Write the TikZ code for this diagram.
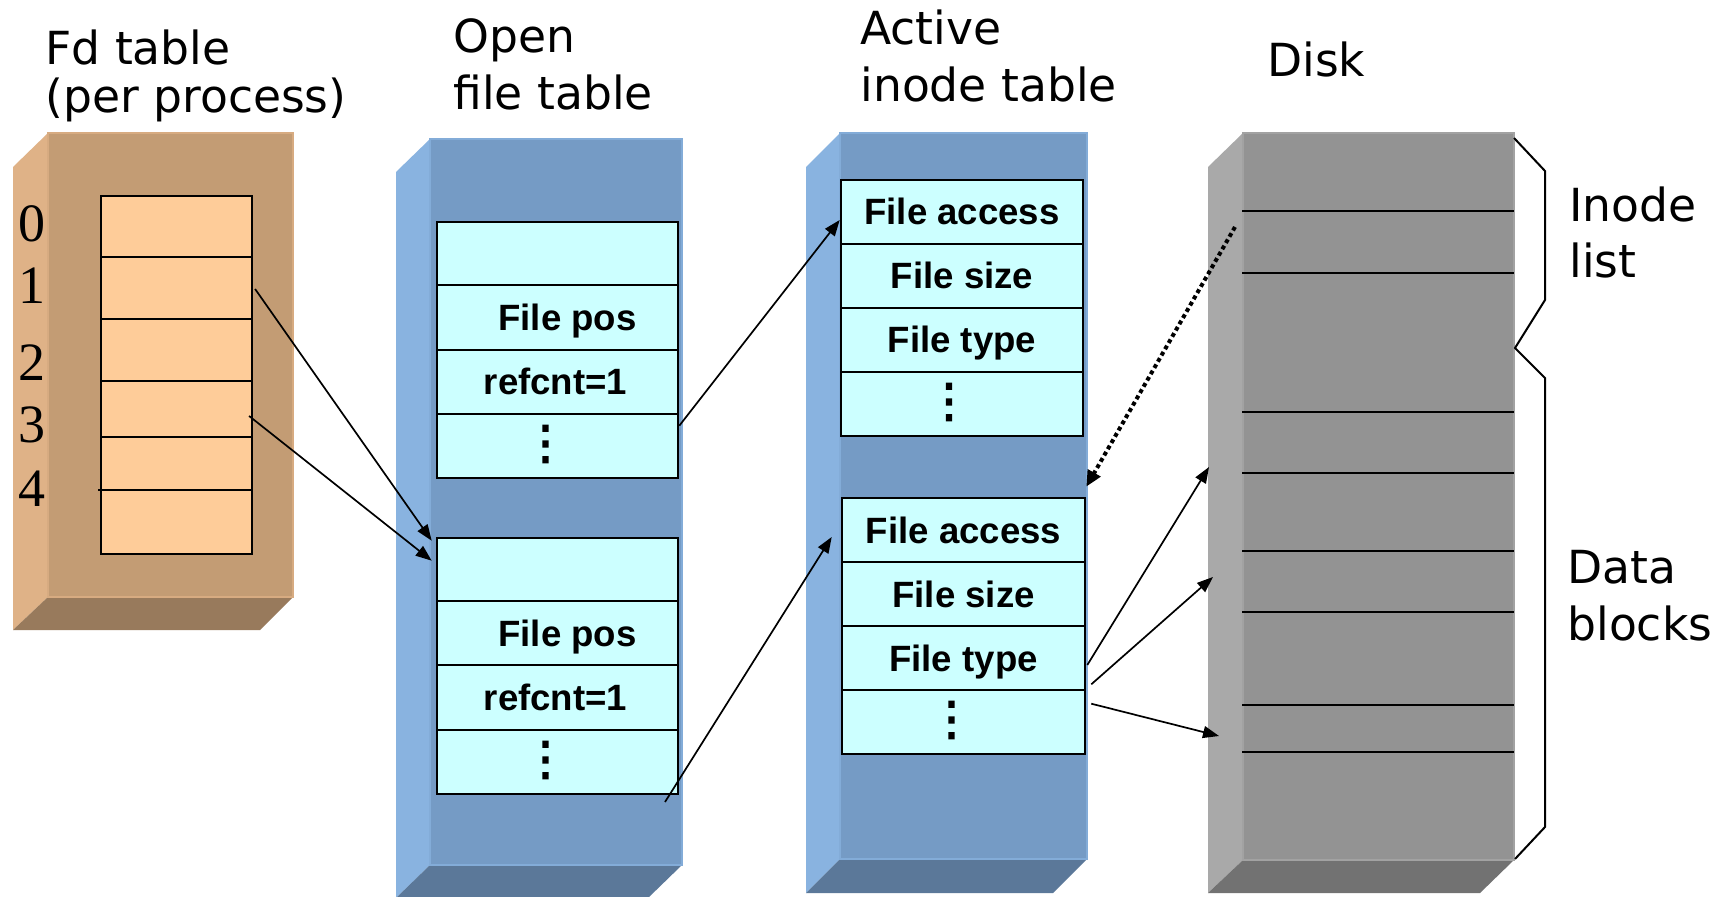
\documentclass[tikz,border=0pt]{standalone}
\usepackage{fontspec}
\setmainfont{DejaVu Sans}
\newfontfamily\labfont{Liberation Sans}
\newfontfamily\digfont{Liberation Serif}
\newfontfamily\dotsfont{DejaVu Sans}[FakeBold=3]
\usetikzlibrary{fit,calc,arrows.meta}
\definecolor{fdfront}{HTML}{C39C74}
\definecolor{fdside}{HTML}{DFB287}
\definecolor{fdbot}{HTML}{987A5C}
\definecolor{fdcell}{HTML}{FECC99}
\definecolor{bfront}{HTML}{759BC5}
\definecolor{bside}{HTML}{89B3E0}
\definecolor{bbot}{HTML}{5B7899}
\definecolor{cyancell}{HTML}{CCFFFF}
\definecolor{dfront}{HTML}{939393}
\definecolor{dside}{HTML}{A9A9A9}
\definecolor{dbot}{HTML}{727272}
\begin{document}
\begin{tikzpicture}[x=0.5pt,y=-0.5pt,
  cell/.style={draw=black, line width=1.3pt, fill=cyancell, inner sep=0pt},
  celltext/.style={inner sep=0pt, text height=13pt, text depth=0pt, anchor=center,
    font=\labfont\bfseries\fontsize{18.3}{20}\selectfont},
  vdots/.style={inner sep=0pt, anchor=center,
    font=\dotsfont\fontsize{23}{24}\selectfont},
  fdcellst/.style={draw=black, line width=1.1pt, fill=fdcell, inner sep=0pt},
  conn/.style={line width=0.85pt, -{Triangle[length=8pt,width=6pt]}},
  dotconn/.style={line width=2pt, dash pattern=on 2pt off 1.6pt, -{Triangle[length=8pt,width=7pt]}},
  head/.style={anchor=base west, inner sep=0pt, font=\fontsize{22.8}{27}\selectfont},
  digit/.style={anchor=base, inner sep=0pt, font=\digfont\fontsize{27}{30}\selectfont},
]
\clip (0,0) rectangle (1733,897);
\fill[white] (0,0) rectangle (1733,897);

% ---------- Fd table block ----------
\fill[fdside] (13,167) -- (48,133) -- (48,597) -- (13,630) -- cycle;
\fill[fdbot] (48,597) -- (293,597) -- (260,630) -- (13,630) -- cycle;
\filldraw[fill=fdfront, draw=fdside!70!fdfront, line width=0.8pt] (48,133) rectangle (293,597);

% ---------- Open file table block ----------
\fill[bside] (396,172) -- (430,139) -- (430,865) -- (396,898) -- cycle;
\fill[bbot] (430,865) -- (682,865) -- (648,898) -- (396,898) -- cycle;
\filldraw[fill=bfront, draw=bside!70!bfront, line width=0.8pt] (430,139) rectangle (682,865);

% ---------- Active inode table block ----------
\fill[bside] (806,167) -- (840,133) -- (840,859) -- (806,893) -- cycle;
\fill[bbot] (840,859) -- (1087,859) -- (1053,893) -- (806,893) -- cycle;
\filldraw[fill=bfront, draw=bside!70!bfront, line width=0.8pt] (840,133) rectangle (1087,859);

% ---------- Disk block ----------
\fill[dside] (1208,167) -- (1243,133) -- (1243,860) -- (1208,893) -- cycle;
\fill[dbot] (1243,860) -- (1514,860) -- (1480,893) -- (1208,893) -- cycle;
\filldraw[fill=dfront, draw=dside!70!dfront, line width=0.8pt] (1243,133) rectangle (1514,860);
\foreach \yy in {211,273,412,473,551,612,705,752}
  \draw[line width=1pt] (1242,\yy) -- (1514,\yy);

% brace
\draw[line width=1pt] (1514,138) -- (1545,171) -- (1545,300) -- (1515,348)
  -- (1545,378) -- (1545,827) -- (1515,859);

% ---------- headers ----------
\node[head] (h1a) at (45,65) {Fd table};
\node[head] (h1b) at (45,113) {(per process)};
\node[head] (h2a) at (453,53) {Open};
\node[head] (h2b) at (453,110) {file table};
\node[head] (h3a) at (860,45) {Active};
\node[head] (h3b) at (860,102) {inode table};
\node[head] (h4) at (1267,77) {Disk};
\node[head] (l1a) at (1569,222) {Inode};
\node[head] (l1b) at (1569,278) {list};
\node[head] (l2a) at (1567,583) {Data};
\node[head] (l2b) at (1567,640) {blocks};

% ---------- Fd table cells ----------
\node[fdcellst, fit={(101,196)(252,257)}] (fd0) {};
\node[fdcellst, fit={(101,257)(252,319)}] (fd1) {};
\node[fdcellst, fit={(101,319)(252,381)}] (fd2) {};
\node[fdcellst, fit={(101,381)(252,437)}] (fd3) {};
\node[fdcellst, fit={(101,437)(252,490)}] (fd4) {};
\node[fdcellst, fit={(101,490)(252,554)}] (fd5) {};
\draw[line width=1.1pt] (98,490) -- (250,490);

\node[digit] (n0) at (32,242) {0};
\node[digit] (n1) at (32,304) {1};
\node[digit] (n2) at (32,381) {2};
\node[digit] (n3) at (32,443) {3};
\node[digit] (n4) at (32,506) {4};

% ---------- Open file table cells ----------
\node[cell, fit={(437,222)(678,285)}] (ofA1) {};
\node[cell, fit={(437,285)(678,350)}] (ofA2) {};
\node[cell, fit={(437,350)(678,414)}] (ofA3) {};
\node[cell, fit={(437,414)(678,478)}] (ofA4) {};
\node[celltext] (tA2) at ($(ofA2.center)+(10,0)$) {File pos};
\node[celltext] (tA3) at ($(ofA3.center)+(-2,0)$) {refcnt=1};
\node[vdots] (tA4) at ($(ofA4.center)+(-12,-2)$) {⋮};

\node[cell, fit={(437,538)(678,601)}] (ofB1) {};
\node[cell, fit={(437,601)(678,665)}] (ofB2) {};
\node[cell, fit={(437,665)(678,730)}] (ofB3) {};
\node[cell, fit={(437,730)(678,794)}] (ofB4) {};
\node[celltext] (tB2) at ($(ofB2.center)+(10,0)$) {File pos};
\node[celltext] (tB3) at ($(ofB3.center)+(-2,0)$) {refcnt=1};
\node[vdots] (tB4) at ($(ofB4.center)+(-12,-2)$) {⋮};

% ---------- Active inode table cells ----------
\node[cell, fit={(841,180)(1083,244)}] (inA1) {};
\node[cell, fit={(841,244)(1083,308)}] (inA2) {};
\node[cell, fit={(841,308)(1083,372)}] (inA3) {};
\node[cell, fit={(841,372)(1083,436)}] (inA4) {};
\node[celltext] (uA1) at (inA1.center) {File access};
\node[celltext] (uA2) at (inA2.center) {File size};
\node[celltext] (uA3) at (inA3.center) {File type};
\node[vdots] (uA4) at ($(inA4.center)+(-13,-2)$) {⋮};

\node[cell, fit={(842,498)(1085,562)}] (inB1) {};
\node[cell, fit={(842,562)(1085,626)}] (inB2) {};
\node[cell, fit={(842,626)(1085,690)}] (inB3) {};
\node[cell, fit={(842,690)(1085,754)}] (inB4) {};
\node[celltext] (uB1) at (inB1.center) {File access};
\node[celltext] (uB2) at (inB2.center) {File size};
\node[celltext] (uB3) at (inB3.center) {File type};
\node[vdots] (uB4) at ($(inB4.center)+(-12,-2)$) {⋮};

% ---------- free ends ----------
\coordinate (oD) at (665,802);
\coordinate (dE) at (1235,227);
\coordinate (dF) at (1209,467);
\coordinate (dG) at (1213,577);
\coordinate (dH) at (1219,736);

% ---------- connectors ----------
\draw[conn] ($(fd1.east)+(2,1)$) -- ($(ofB1.north west)+(-4,4)$);
\draw[conn] ($(fd3.east)+(-4,7)$) -- ($(ofB1.north west)+(-4,24)$);
\draw[conn] ($(ofA4.north east)+(0,13)$) -- ($(inA1.west)+(0,8)$);
\draw[conn] (oD) -- ($(inB1.west)+(-9,7)$);
\draw[dotconn] (dE) -- ($(inB1.north east)+(0,-10)$);
\draw[conn] ($(inB3.east)+(1,7)$) -- (dF);
\draw[conn] ($(inB3.south east)+(5,-7)$) -- (dG);
\draw[conn] ($(inB4.north east)+(5,15)$) -- (dH);
\end{tikzpicture}
\end{document}
